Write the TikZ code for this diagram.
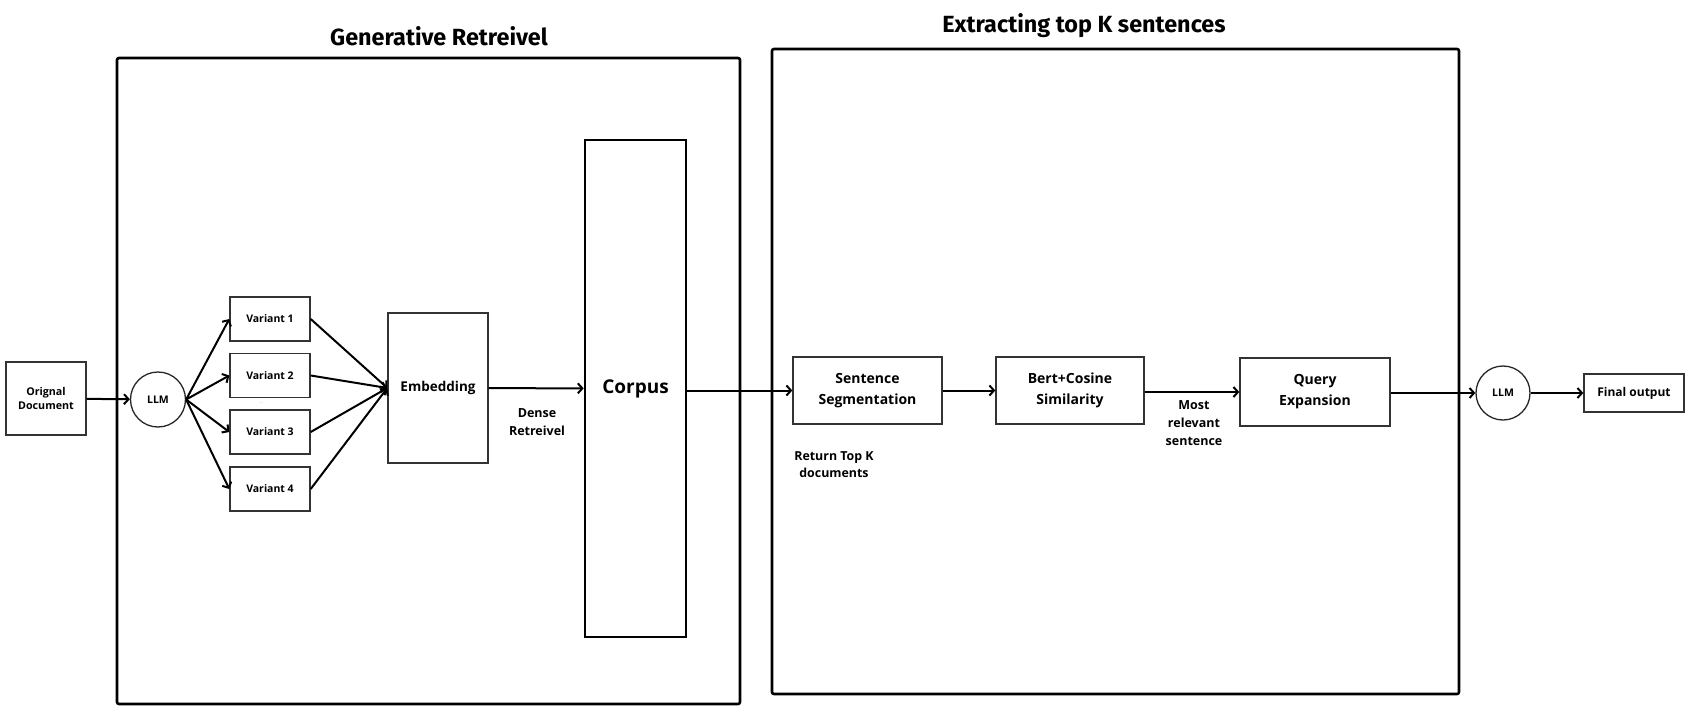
\documentclass[tikz,border=0pt]{standalone}
\usepackage{fontspec}
\setmainfont{Open Sans}
\newfontfamily\headfont{Fira Sans}
\usepackage{tikz}
\usetikzlibrary{arrows.meta}
\usetikzlibrary{shapes}
\tikzstyle{bigbox}=[draw, line width=2.6pt, rounded corners=2pt, inner sep=0pt]
\tikzstyle{smallbox}=[draw=black!80, line width=1.4pt, inner sep=0pt, align=center, font=\bfseries\fontsize{10.5}{14}\selectfont]
\tikzstyle{stagebox}=[draw=black!80, line width=1.4pt, inner sep=0pt, align=center, font=\bfseries\fontsize{14}{21}\selectfont]
\tikzstyle{llmcircle}=[circle, draw=black!85, line width=1.3pt, inner sep=0pt, font=\bfseries\fontsize{10.5}{12}\selectfont]
\tikzstyle{conn}=[line width=2pt, -{Straight Barb[length=4.5pt,width=10pt]}]
\tikzstyle{note}=[align=center, font=\bfseries\fontsize{12.5}{18}\selectfont]
\tikzstyle{heading}=[font=\headfont\bfseries\fontsize{23.4}{26}\selectfont]

\begin{document}
\begin{tikzpicture}[x=1pt,y=-1pt]
	\useasboundingbox (0,0) rectangle (1692,706);
	% the two stages
	\node[bigbox, minimum width=623pt, minimum height=646pt] (gen) at (428.5,381) {};
	\node[bigbox, minimum width=687pt, minimum height=645pt] (ext) at (1115.5,371.5) {};
	\node[heading] (genT) at (439,36) {Generative Retreivel};
	\node[heading] (extT) at (1084,26) {Extracting top K sentences};
	% generative retrieval
	\node[smallbox, minimum width=80pt, minimum height=73pt, font=\bfseries\fontsize{10.7}{14}\selectfont] (doc) at (46,398.5) {Orignal\\Document};
	\node[llmcircle, minimum size=55pt] (llmA) at (158,399.5) {LLM};
	\foreach \i/\y in {1/319,2/375.5,3/432,4/489}
		\node[smallbox, minimum width=80pt, minimum height=44pt] (var\i) at (270,\y) {Variant \i};
	\node[text=black!35, font=\fontsize{4}{4}\selectfont] (dots) at (261,403) {....};
	\node[smallbox, minimum width=100pt, minimum height=150pt, font=\bfseries\fontsize{13.5}{16}\selectfont] (emb) at (438,388) {Embedding};
	\node[draw, line width=2.6pt, inner sep=0pt, minimum width=101pt, minimum height=497pt, font=\bfseries\fontsize{19}{22}\selectfont] (corpus) at (635.5,388.5) {Corpus};
	\node[note] (dense) at (537,422) {Dense\\Retreivel};
	% top K sentences
	\node[stagebox, minimum width=149pt, minimum height=67pt] (seg) at (867.5,390.5) {Sentence\\Segmentation};
	\node[stagebox, minimum width=148pt, minimum height=67pt] (bert) at (1070,390.5) {Bert+Cosine\\Similarity};
	\node[stagebox, minimum width=150pt, minimum height=68pt] (qe) at (1315,392) {Query\\Expansion};
	\node[note, font=\bfseries\fontsize{12.4}{17}\selectfont] (topk) at (834,464.5) {Return Top K\\documents};
	\node[note] (rel) at (1194,423) {Most\\relevant\\sentence};
	\node[llmcircle, minimum size=54pt] (llmB) at (1503,393) {LLM};
	\node[smallbox, minimum width=100pt, minimum height=38pt, font=\bfseries\fontsize{12}{14}\selectfont] (fin) at (1634,393) {Final output};
	% connectors
	\draw[conn] (doc) -- (llmA);
	\foreach \i in {1,...,4} {
		\draw[conn] (llmA.east) -- (var\i.west);
		\draw[conn] (var\i.east) -- (emb.west);
	}
	\draw[conn] (emb) -- (corpus);
	\draw[conn] (corpus.east |- seg.west) -- (seg.west);
	\draw[conn] (seg) -- (bert);
	\draw[conn] (bert.east |- qe.west) -- (qe.west);
	\draw[conn] (qe.east |- llmB.west) -- (llmB.west);
	\draw[conn] (llmB) -- (fin);
\end{tikzpicture}
\end{document}
